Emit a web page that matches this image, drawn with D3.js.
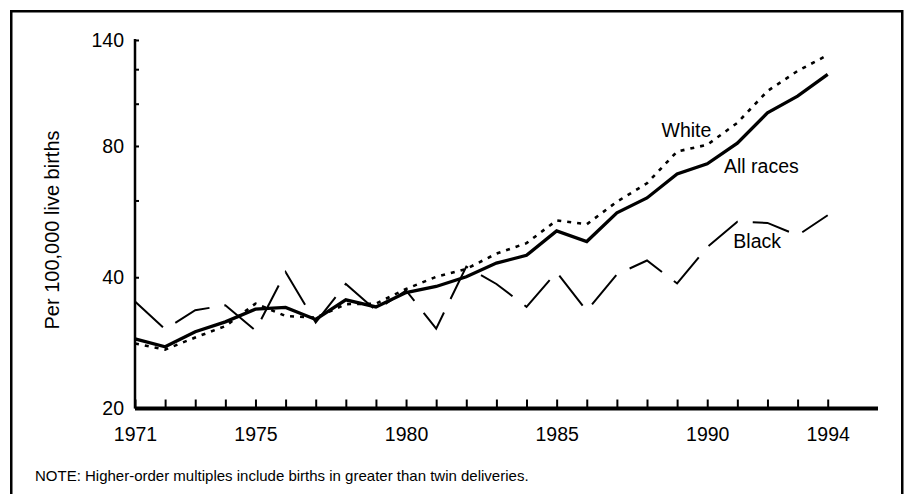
<!DOCTYPE html>
<html><head><meta charset="utf-8">
<script src="https://cdn.jsdelivr.net/npm/d3@7"></script>
<style>
body{margin:0;background:#fff}
svg{display:block}
text{font-family:"Liberation Sans",Arial,Helvetica,sans-serif;fill:#000}
</style>
</head><body>
<svg id="chart" width="904" height="494"></svg>
<script>
// ---- data ----
const years = [1971,1972,1973,1974,1975,1976,1977,1978,1979,1980,1981,1982,1983,1984,1985,1986,1987,1988,1989,1990,1991,1992,1993,1994];
const allRaces = [28.9,27.7,30.0,31.6,33.8,34.1,32.0,35.5,34.2,36.9,38.1,40.1,43.1,44.9,51.1,48.3,56.2,60.8,69.0,72.8,81.2,95.3,104.1,116.8];
const white    = [28.2,27.3,29.1,30.9,34.8,32.6,32.3,34.7,34.8,37.6,40.1,41.8,45.3,47.9,54.0,52.9,59.6,65.7,77.7,80.5,90.4,106.9,118.9,129.3];
const black    = [35.2,30.4,33.6,34.5,30.2,41.1,31.5,38.6,33.6,37.3,30.5,42.3,38.6,34.2,41.1,33.5,40.6,43.7,38.7,46.9,53.6,53.3,49.9,55.5];
const yTicks   = [20,40,60,80,100,120,140];
const yLabels  = [20,40,80,140];
const xLabels  = [1971,1975,1980,1985,1990,1994];
const seriesNames = ["All races","White","Black"];
const yTitle = "Per 100,000 live births";
const note = "NOTE: Higher-order multiples include births in greater than twin deliveries.";

// ---- drawing ----
const svg = d3.select("#chart");
const x = d3.scaleLinear().domain([1971,1994]).range([135,827.7]);
const y = d3.scaleLog().domain([20,140]).range([408.5,40]);

// frame
svg.append("rect").attr("x",11.25).attr("y",11.25).attr("width",891).attr("height",520)
  .attr("fill","none").attr("stroke","#000").attr("stroke-width",2.5);

// x axis
const xAxis = d3.axisBottom(x).tickValues(years).tickSizeInner(-9).tickSizeOuter(0)
  .tickPadding(18.4).tickFormat(d => xLabels.includes(d) ? String(d) : "");
const gx = svg.append("g").attr("transform","translate(0,408.5)").call(xAxis);
gx.select(".domain").remove();
gx.selectAll(".tick line").attr("stroke","#000").attr("stroke-width",2);
gx.selectAll(".tick text").attr("font-size","19.5px").attr("fill","#000");
gx.append("line").attr("x1",x(1971)).attr("x2",878).attr("y1",0).attr("y2",0)
  .attr("stroke","#000").attr("stroke-width",4);

// y axis
const yAxis = d3.axisLeft(y).tickValues(yTicks).tickSizeInner(-4).tickSizeOuter(0)
  .tickPadding(11).tickFormat(d => yLabels.includes(d) ? String(d) : "");
const gy = svg.append("g").attr("transform","translate(135,0)").call(yAxis);
gy.select(".domain").remove();
gy.selectAll(".tick line").attr("stroke","#000").attr("stroke-width",2);
gy.selectAll(".tick text").attr("font-size","19.5px").attr("fill","#000");
gy.append("line").attr("x1",0).attr("x2",0).attr("y1",y(140)-1).attr("y2",y(20))
  .attr("stroke","#000").attr("stroke-width",2.5);

// y title
svg.append("text").attr("transform","translate(58.5,230) rotate(-90)")
  .attr("text-anchor","middle").attr("font-size","20px").text(yTitle);

// lines
const line = d3.line().x(d => x(d[0])).y(d => y(d[1]));
const zip = arr => years.map((yr,i) => [yr, arr[i]]);
svg.append("path").datum(zip(black)).attr("d",line).attr("fill","none")
  .attr("stroke","#000").attr("stroke-width",2).attr("stroke-dasharray","38,15");
svg.append("path").datum(zip(white)).attr("d",line).attr("fill","none")
  .attr("stroke","#000").attr("stroke-width",2.6).attr("stroke-dasharray","4,6");
svg.append("path").datum(zip(allRaces)).attr("d",line).attr("fill","none")
  .attr("stroke","#000").attr("stroke-width",3.3).attr("stroke-linejoin","miter");

// series labels
svg.append("text").attr("x",661.5).attr("y",137.3).attr("font-size","19.5px").text(seriesNames[1]);
svg.append("text").attr("x",724).attr("y",173.3).attr("font-size","19.5px").text(seriesNames[0]);
svg.append("text").attr("x",733.3).attr("y",248.3).attr("font-size","19.5px").text(seriesNames[2]);

// note
svg.append("text").attr("x",35).attr("y",481).attr("font-size","15px").text(note);
</script>
</body></html>
